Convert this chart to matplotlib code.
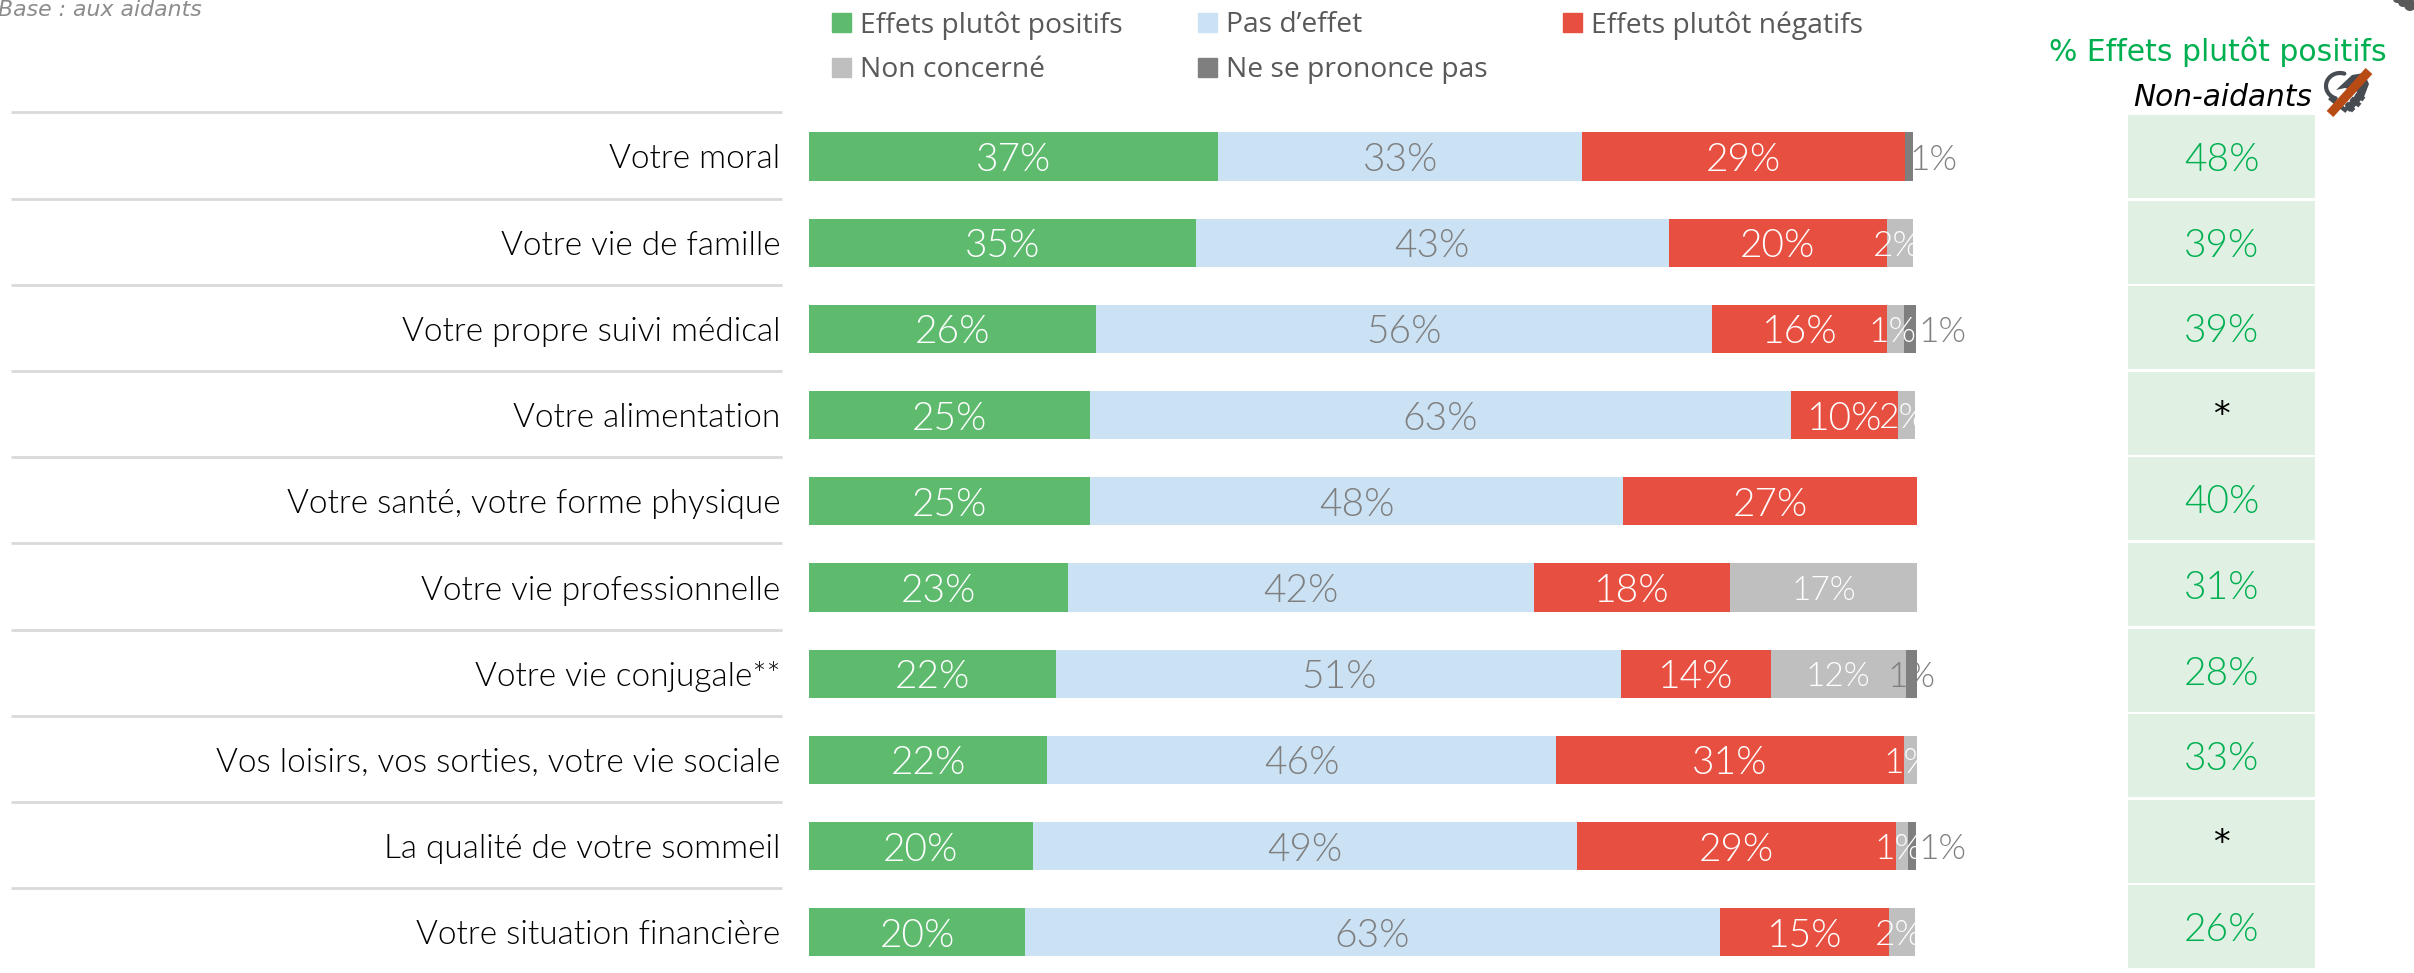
import numpy as np
import matplotlib.pyplot as plt
from matplotlib import font_manager as fm
from matplotlib.patches import Patch, Polygon, Circle

# rows, top to bottom
categories = ['Votre moral', 'Votre vie de famille', 'Votre propre suivi médical', 'Votre alimentation',
              'Votre santé, votre forme physique', 'Votre vie professionnelle', 'Votre vie conjugale**',
              'Vos loisirs, vos sorties, votre vie sociale', 'La qualité de votre sommeil', 'Votre situation financière']

# bar lengths (%)
positifs = [36.9, 34.9, 25.9, 25.4, 25.4, 23.4, 22.3, 21.5, 20.2, 19.5]
pas_effet = [32.9, 42.7, 55.6, 63.2, 48.1, 42.0, 51.0, 45.9, 49.1, 62.7]
negatifs = [29.1, 19.7, 15.8, 9.7, 26.5, 17.7, 13.5, 31.4, 28.8, 15.3]
non_concerne = [0, 2.3, 1.5, 1.5, 0, 16.9, 12.2, 1.2, 1.1, 2.3]
nsp = [0.7, 0, 1.1, 0, 0, 0, 1.0, 0, 0.7, 0]

# printed labels
lab_positifs = ['37%', '35%', '26%', '25%', '25%', '23%', '22%', '22%', '20%', '20%']
lab_pas_effet = ['33%', '43%', '56%', '63%', '48%', '42%', '51%', '46%', '49%', '63%']
lab_negatifs = ['29%', '20%', '16%', '10%', '27%', '18%', '14%', '31%', '29%', '15%']
lab_non_concerne = ['', '2%', '1%', '2%', '', '17%', '12%', '1%', '1%', '2%']
lab_nsp = ['1%', '', '1%', '', '', '', '1%', '', '1%', '']
non_aidants = ['48%', '39%', '39%', '*', '40%', '31%', '28%', '33%', '*', '26%']

colors = ['#5EBB6E', '#CBE2F5', '#E74F40', '#BFBFBF', '#7F7F7F']
names = ['Effets plutôt positifs', 'Pas d’effet', 'Effets plutôt négatifs', 'Non concerné', 'Ne se prononce pas']
GREY = '#7F7F7F'
GREEN = '#00B050'


def light_font(size):
    # weight='light' lands on Lato Hairline, so look the file up by name
    for f in fm.fontManager.ttflist:
        if f.name == 'Lato' and f.fname.endswith('Lato-Light.ttf'):
            return fm.FontProperties(fname=f.fname, size=size)
    return fm.FontProperties(family='Lato', size=size)


W, H = 2414, 973
fig = plt.figure(figsize=(W / 100, H / 100), dpi=100)

# main axes fills the figure, x in %, y in rows
PX_PER_PCT = 11.08
ROW = 86.2
ax = fig.add_axes([0, 0, 1, 1])
ax.set_xlim(-809 / PX_PER_PCT, (W - 809) / PX_PER_PCT)
ax.set_ylim((H - 156.5) / ROW, -156.5 / ROW)
ax.axis('off')

y = np.arange(len(categories))
series = [positifs, pas_effet, negatifs, non_concerne, nsp]
labels = [lab_positifs, lab_pas_effet, lab_negatifs, lab_non_concerne, lab_nsp]
text_colors = ['white', GREY, 'white', 'white', GREY]

left = np.zeros(len(categories))
for vals, labs, c, tc in zip(series, labels, colors, text_colors):
    vals = np.array(vals)
    ax.barh(y, vals, left=left, height=0.56, color=c, linewidth=0)
    for i, lab in enumerate(labs):
        if lab == '':
            continue
        xpos = left[i] + vals[i] / 2
        if c == colors[4] and i != 6:   # small no-opinion labels sit outside the bar
            xpos = left[i] + vals[i] + (1.9 if i == 0 else 2.4)
        elif c == colors[3] and vals[i] < 3:
            xpos -= 0.3
        if c in colors[3:]:
            size = 24 if vals[i] > 10 else 25.5
        else:
            size = 28
        ax.text(xpos, y[i], lab, ha='center', va='center_baseline', color=tc,
                fontproperties=light_font(size), zorder=5)
    left = left + vals

# row names and separators
for i, name in enumerate(categories):
    ax.text(-2.6, y[i], name, ha='right', va='center_baseline', color='black', fontproperties=light_font(24))
ax.hlines(np.arange(len(categories) + 1) - 0.5 - 0.012, -72, -2.4, color='#D9D9D9', linewidth=2)

# non-aidants column
cell_y = y * 85.6 / ROW
ax.barh(cell_y, [16.9] * len(y), left=119.0, height=0.963, color='#E0F0E3', linewidth=0)
for i, v in enumerate(non_aidants):
    if v == '*':
        ax.text(127.5, cell_y[i] + 0.03, v, ha='center', va='center', fontsize=24, color='black', family='DejaVu Sans')
    else:
        ax.text(127.5, cell_y[i], v, ha='center', va='center_baseline', color=GREEN, fontproperties=light_font(28))

# legend
handles = [Patch(color=c, label=n) for c, n in zip(colors, names)]
order = [0, 3, 1, 4, 2]
leg = fig.legend([handles[k] for k in order], [names[k] for k in order], ncol=3, loc='upper left',
                 bbox_to_anchor=(832 / W, 1 - 11 / H), frameon=False, borderpad=0, borderaxespad=0,
                 handlelength=0.68, handleheight=0.68, handletextpad=0.33, columnspacing=2.65, labelspacing=0.6,
                 prop={'family': 'Open Sans', 'size': 20.3})
for t in leg.get_texts():
    t.set_color('#595959')

# text in pixel positions
fig.text(-2 / W, 1 - 10 / H, 'Base : aux aidants', fontsize=15.8, style='italic', color='#8C8C8C', family='DejaVu Sans', va='center')
fig.text(2387 / W, 1 - 52 / H, '% Effets plutôt positifs', fontsize=21.5, color=GREEN, family='DejaVu Sans', ha='right', va='center')
fig.text(2312 / W, 1 - 97 / H, 'Non-aidants', fontsize=21.3, style='italic', color='black', family='DejaVu Sans', ha='right', va='center')

# crossed-out heart icon, drawn roughly, pixel coordinates
deco = fig.add_axes([0, 0, 1, 1])
deco.set_xlim(0, W)
deco.set_ylim(H, 0)
deco.axis('off')
DARK = '#474B52'
t = np.linspace(0.6 * np.pi, 1.6 * np.pi, 30)
deco.plot(2340 + 14 * np.cos(t), 86 + 13 * np.sin(t), color=DARK, lw=3, solid_capstyle='round')
deco.plot([2331, 2345], [99, 110], color=DARK, lw=3)
deco.add_patch(Polygon([[2336, 90], [2352, 75], [2364, 73], [2369, 84], [2364, 97], [2350, 112], [2344, 108], [2358, 92], [2345, 88]],
                       closed=True, color=DARK, lw=0))
for a, b in [((2348, 105), (2352, 109)), ((2353, 100), (2358, 104)), ((2358, 95), (2362, 98))]:
    deco.plot([a[0], b[0]], [a[1], b[1]], color=DARK, lw=3.5)
deco.plot([2369, 2330], [71, 114], color='#B84A14', lw=6.5, solid_capstyle='butt')
for cx, cy, r in [(2403, 2, 5), (2410, 5, 6), (2397, -1, 4)]:
    deco.add_patch(Circle((cx, cy), r, color='#595959', lw=0))

fig.savefig('out.png', dpi=100)
